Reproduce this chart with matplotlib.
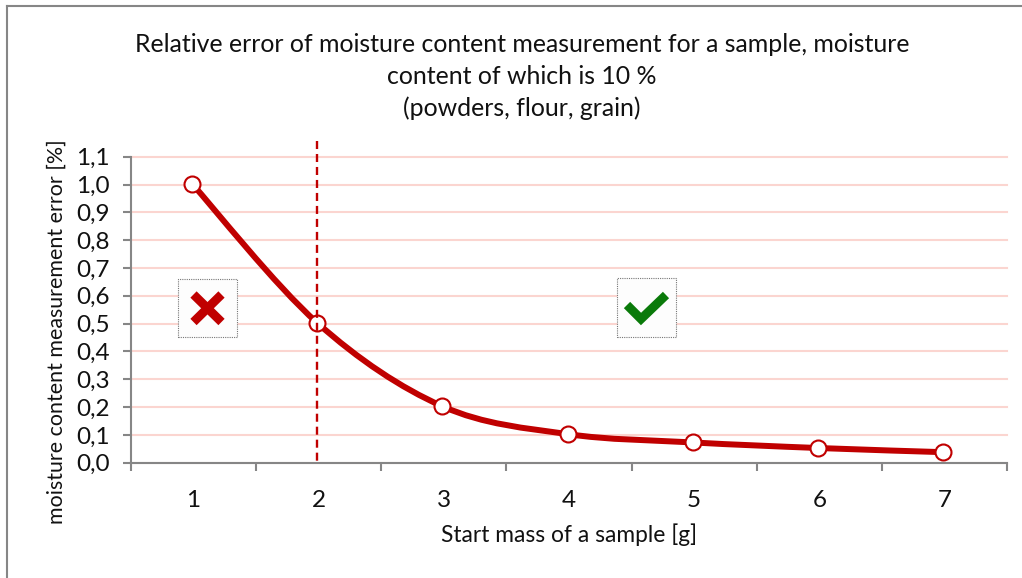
import matplotlib
matplotlib.use("Agg")
import matplotlib.pyplot as plt
from matplotlib.path import Path
from matplotlib.patches import PathPatch, Rectangle
from matplotlib.lines import Line2D
from matplotlib.transforms import ScaledTranslation

plt.rcParams['font.family'] = ['Lato', 'DejaVu Sans']

masses = [1, 2, 3, 4, 5, 6, 7]
errors = [1.0, 0.5, 0.2, 0.1, 0.07, 0.05, 0.035]
y_ticks = [0.0, 0.1, 0.2, 0.3, 0.4, 0.5, 0.6, 0.7, 0.8, 0.9, 1.0, 1.1]
title_lines = ["Relative error of moisture content measurement for a sample, moisture",
               "content of which is 10 %",
               "(powders, flour, grain)"]
x_label = "Start mass of a sample [g]"
y_label = "moisture content measurement error [%]"
threshold_mass = 2

W, H = 1022, 578
RED = '#C00000'
GRAY = '#868686'
GRID = '#FBD5D0'
INK = '#111111'

fig = plt.figure(figsize=(W / 100, H / 100), dpi=100, facecolor='white')
L, R, T, B = 131, 1007, 156.7, 462.7
ax = fig.add_axes([L / W, 1 - B / H, (R - L) / W, (B - T) / H])
ax.set_xlim(0.5, 7.5)
ax.set_ylim(0, 1.1)
for s in ('top', 'right'):
    ax.spines[s].set_visible(False)
for s in ('left', 'bottom'):
    ax.spines[s].set_color(GRAY)
    ax.spines[s].set_linewidth(1.5)
    ax.spines[s].set_zorder(2.5)

ax.set_yticks(y_ticks)
ax.set_yticklabels([f"{v:.1f}".replace('.', ',') for v in y_ticks], fontsize=17.5, color=INK)
ax.set_xticks([m - 0.5 for m in masses] + [7.5])
ax.set_xticklabels([])
ax.set_xticks(masses, minor=True)
ax.set_xticklabels([str(m) for m in masses], minor=True, fontsize=17.5, color=INK)
ax.tick_params(axis='x', which='major', length=5.8, width=1.5, color=GRAY, direction='out')
ax.tick_params(axis='x', which='minor', length=0, pad=19.5)
ax.tick_params(axis='y', length=5.8, width=1.5, color=GRAY, direction='out', pad=9.5)
ax.set_axisbelow(True)
ax.yaxis.grid(True, color=GRID, linewidth=1.5)
ax.xaxis.grid(False)
for gl in ax.get_ygridlines():
    gl.set_clip_on(False)

# The marks sit slightly up and left of the tick grid in the original
marks = ax.transData + ScaledTranslation(-1.5 / 100, 0.8 / 100, fig.dpi_scale_trans)

# Smoothed curve through the data (Excel-style Bezier)
verts = [(masses[0], errors[0])]
codes = [Path.MOVETO]
n = len(masses)
for i in range(n - 1):
    p0 = (masses[max(i - 1, 0)], errors[max(i - 1, 0)])
    p1 = (masses[i], errors[i])
    p2 = (masses[i + 1], errors[i + 1])
    p3 = (masses[min(i + 2, n - 1)], errors[min(i + 2, n - 1)])
    c1 = (p1[0] + (p2[0] - p0[0]) / 6, p1[1] + (p2[1] - p0[1]) / 6)
    c2 = (p2[0] - (p3[0] - p1[0]) / 6, p2[1] - (p3[1] - p1[1]) / 6)
    verts += [c1, c2, p2]
    codes += [Path.CURVE4] * 3
ax.add_patch(PathPatch(Path(verts, codes), fill=False, edgecolor=RED, linewidth=4.3, zorder=3,
                       capstyle='round', transform=marks))

ax.plot(masses, errors, linestyle='none', marker='o', markersize=11.5, markerfacecolor='white',
        markeredgecolor=RED, markeredgewidth=1.5, zorder=4, transform=marks, clip_on=False)
ax.plot([threshold_mass, threshold_mass], [1.155, 0], color=RED, linewidth=1.7,
        dashes=(3.4, 2.1), clip_on=False, zorder=5, transform=marks)

ax.set_xlabel(x_label, fontsize=16.4, color=INK, labelpad=0)
ax.xaxis.set_label_coords((568.7 - L) / (R - L), -(535 - B) / (B - T), transform=ax.transAxes)
ax.xaxis.label.set_va('center')
ax.set_ylabel(y_label, fontsize=15.4, color=INK)
ax.yaxis.set_label_coords((57 - L) / (R - L), (B - 332) / (B - T), transform=ax.transAxes)
ax.yaxis.label.set_va('center')

for line, y in zip(title_lines, (45, 76, 108)):
    fig.text(522 / W, 1 - y / H, line, fontsize=17.9, color=INK, ha='center', va='center')

# Outer frame
def px(x, y):
    return (x / W, 1 - y / H)

for a, b in [((7, 6), (7, 578)), ((7, 6), (1022, 6))]:
    fig.add_artist(Line2D([px(*a)[0], px(*b)[0]], [px(*a)[1], px(*b)[1]], color=GRAY, linewidth=1.5))

# Icons
def box(x0, y0, x1, y1):
    fig.add_artist(Rectangle(px(x0, y1), (x1 - x0) / W, (y1 - y0) / H, transform=fig.transFigure,
                             facecolor='#FDFDFD', edgecolor='#777777', linewidth=0.8,
                             linestyle=(0, (1, 1)), zorder=6))

def stroke(points, color, lw):
    fig.add_artist(Line2D([px(*p)[0] for p in points], [px(*p)[1] for p in points], color=color,
                          linewidth=lw, solid_capstyle='butt', solid_joinstyle='miter', zorder=7))

box(178, 279, 237, 336.5)
stroke([(193.5, 294.5), (221.5, 322)], RED, 6.4)
stroke([(221.5, 294.5), (193.5, 322)], RED, 6.4)

box(617, 278, 675.5, 336.5)
stroke([(627, 305), (641, 319), (666, 295)], '#0A7A0A', 6.4)

fig.savefig('out.png', dpi=100, facecolor='white')
